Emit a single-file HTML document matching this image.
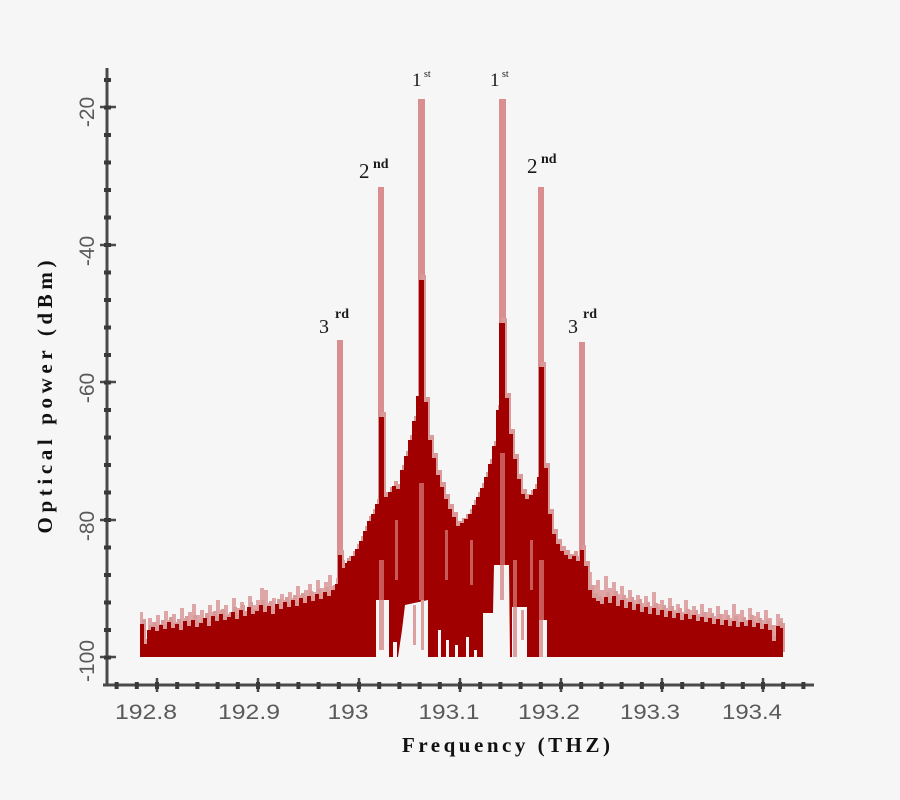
<!DOCTYPE html>
<html><head><meta charset="utf-8"><style>
html,body{margin:0;padding:0;background:#f6f6f6;}
svg{display:block;}
</style></head><body>
<svg width="900" height="800" viewBox="0 0 900 800" xmlns="http://www.w3.org/2000/svg">
<rect width="900" height="800" fill="#f6f6f6"/>
<defs>
<path id="env" d="M140,657 V624 H144 V644 H147 V630 H151 V627 H155 V631 H159 V625 H163 V629 H167 V622 H171 V628 H175 V624 H179 V630 H183 V621 H187 V626 H191 V620 H195 V627 H199 V623 H203 V618 H207 V626 H211 V616 H215 V621 H219 V614 H223 V620 H227 V617 H231 V612 H235 V619 H239 V610 H243 V616 H247 V607 H251 V614 H255 V611 H259 V605 H263 V612 H267 V606 H271 V614 H275 V604 H279 V609 H283 V602 H287 V607 H291 V600 H295 V606 H299 V598 H303 V603 H307 V596 H311 V601 H315 V594 H319 V599 H323 V592 H327 V596 H331 V590 H335 V584 H338 V555 H342 V568 H345 V563 H347 V561 H351 V556 H355 V549 H359 V541 H363 V531 H367 V521 H371 V514 H375 V504 H379 V417 H384 V497 H388 V492 H392 V486 H396 V489 H400 V470 H404 V456 H408 V440 H412 V421 H416 V396 H419 V280 H424 V402 H428 V440 H432 V458 H436 V475 H440 V487 H444 V499 H448 V509 H452 V517 H456 V526 H460 V523 H464 V519 H468 V514 H472 V505 H476 V497 H480 V488 H484 V477 H488 V464 H492 V446 H496 V410 H499 V323 H505 V398 H509 V434 H513 V459 H517 V479 H521 V494 H525 V499 H529 V495 H533 V489 H537 V477 H539 V367 H544 V468 H548 V514 H552 V534 H556 V544 H560 V551 H564 V555 H568 V559 H572 V556 H576 V561 H580 V550 H584 V566 H588 V590 H592 V598 H596 V601 H600 V604 H604 V597 H608 V603 H612 V596 H616 V606 H620 V600 H624 V608 H628 V602 H632 V610 H636 V604 H640 V612 H644 V607 H648 V614 H652 V608 H656 V615 H660 V610 H664 V617 H668 V611 H672 V618 H676 V613 H680 V620 H684 V614 H688 V619 H692 V615 H696 V621 H700 V617 H704 V622 H708 V618 H712 V624 H716 V619 H720 V625 H724 V620 H728 V626 H732 V621 H736 V627 H740 V622 H744 V626 H748 V620 H752 V627 H756 V623 H760 V629 H764 V624 H768 V630 H772 V641 H776 V626 H780 V628 H783 V657 Z"/>
</defs>

<path fill="#d98f8f" d="M337,340h6v317h-6z M378,187h6v470h-6z M418,99h7v558h-7z M499,99h7v558h-7z M538,187h6v470h-6z M579,342h6v315h-6z"/>

<path fill="#dea6a6" d="M140,657 V612 H143 V625 H146 V640 H148 V618 H152 V622 H156 V615 H160 V624 H164 V611 H168 V620 H172 V614 H176 V622 H180 V608 H184 V618 H188 V612 H192 V604 H196 V615 H200 V610 H204 V620 H208 V605 H212 V612 H216 V600 H220 V610 H224 V605 H228 V614 H232 V598 H236 V608 H240 V602 H244 V612 H248 V596 H252 V605 H256 V600 H260 V588 H264 V590 H268 V603 H272 V598 H276 V606 H280 V594 H284 V600 H288 V592 H292 V598 H296 V586 H300 V595 H304 V590 H308 V584 H312 V592 H316 V580 H320 V588 H324 V582 H328 V575 H332 V586 H336 V578 H340 V560 H345 V657 Z"/>
<path fill="#dea6a6" d="M584,657 V575 H588 V572 H592 V585 H596 V580 H600 V590 H604 V576 H608 V588 H612 V582 H616 V594 H620 V586 H624 V598 H628 V590 H632 V600 H636 V595 H640 V603 H644 V596 H648 V606 H652 V592 H656 V604 H660 V600 H664 V608 H668 V598 H672 V610 H676 V604 H680 V612 H684 V600 H688 V610 H692 V606 H696 V614 H700 V604 H704 V612 H708 V608 H712 V616 H716 V606 H720 V614 H724 V610 H728 V618 H732 V604 H736 V614 H740 V610 H744 V620 H748 V608 H752 V616 H756 V612 H760 V620 H764 V610 H768 V618 H772 V625 H776 V614 H780 V618 H783 V657 Z"/>
<use href="#env" transform="translate(2,-5)" fill="#d99a9a"/>
<use href="#env" fill="#a00000"/>

<path fill="#c85a5a" d="M419,483h5v117h-5z M500,453h5v147h-5z M379,560h5v40h-5z M539,560h5v60h-5z M513,560h4v47h-4z M395,520h3v60h-3z M445,530h3v50h-3z M470,540h3v45h-3z M530,540h3v50h-3z"/>

<path fill="#f6f6f6" d="M376,600h13v57h-13z M398,657 L402,630 L405,605 L428,600 L428,657 Z M438,630h3v27h-3z M446,640h3v17h-3z M455,645h3v12h-3z M466,637h3v20h-3z M474,650h3v7h-3z M483,657 L483,613 L493,613 L494,565 L509,565 L510,657 Z M512,607h15v50h-15z M540,620h7v37h-7z M393,642h4v15h-4z"/>
<path fill="#dca0a0" d="M379,600h5v50h-5z M413,605h3v40h-3z M421,600h3v50h-3z M500,565h4v35h-4z M513,607h4v50h-4z M521,610h3v30h-3z M539,620h4v37h-4z"/>

<g stroke="#4a4a4a" fill="none">
<line x1="107" y1="68" x2="107" y2="686" stroke-width="3"/>
<line x1="103" y1="685" x2="814" y2="685" stroke-width="3"/>
<path stroke-width="2.5" d="M100,107H116 M100,245H116 M100,382H116 M100,520H116 M100,657H116 M157,678V692 M258,678V692 M359,678V692 M460,678V692 M561,678V692 M662,678V692 M763,678V692"/>
<line x1="107.5" y1="78" x2="107.5" y2="660" stroke="#3a3a3a" stroke-width="7" stroke-dasharray="4 23.5"/>
<line x1="114.6" y1="685.5" x2="810" y2="685.5" stroke="#3a3a3a" stroke-width="7" stroke-dasharray="4 16.2"/>
</g>

<g font-family="Liberation Sans, sans-serif" font-size="21" fill="#5a5a5a" text-anchor="middle">
<text x="146" y="719" textLength="62" lengthAdjust="spacingAndGlyphs">192.8</text>
<text x="249" y="719" textLength="62" lengthAdjust="spacingAndGlyphs">192.9</text>
<text x="348" y="719" textLength="41" lengthAdjust="spacingAndGlyphs">193</text>
<text x="449" y="719" textLength="61" lengthAdjust="spacingAndGlyphs">193.1</text>
<text x="549" y="719" textLength="62" lengthAdjust="spacingAndGlyphs">193.2</text>
<text x="650" y="719" textLength="60" lengthAdjust="spacingAndGlyphs">193.3</text>
<text x="752" y="719" textLength="60" lengthAdjust="spacingAndGlyphs">193.4</text>
<text transform="translate(94,112) rotate(-90)">-20</text>
<text transform="translate(94,251) rotate(-90)">-40</text>
<text transform="translate(94,388) rotate(-90)">-60</text>
<text transform="translate(94,526) rotate(-90)">-80</text>
<text transform="translate(94,661) rotate(-90)">-100</text>
</g>

<text x="506" y="752" text-anchor="middle" font-family="Liberation Serif, serif" font-weight="bold" font-size="21" fill="#111" textLength="208" lengthAdjust="spacing">Frequency (THZ)</text>
<text transform="translate(52,397) rotate(-90)" text-anchor="middle" font-family="Liberation Serif, serif" font-weight="bold" font-size="21" fill="#111" textLength="273" lengthAdjust="spacing">Optical power (dBm)</text>

<g font-family="Liberation Serif, serif" fill="#1a1a1a">
<text x="412" y="86" font-size="19">1</text><text x="424" y="77" font-size="10">st</text>
<text x="490" y="86" font-size="19">1</text><text x="502" y="77" font-size="10">st</text>
<text x="359" y="178" font-size="21">2</text><text x="373" y="168" font-size="14" font-weight="bold">nd</text>
<text x="527" y="173" font-size="21">2</text><text x="541" y="163" font-size="14" font-weight="bold">nd</text>
<text x="319" y="333" font-size="20">3</text><text x="335" y="318" font-size="14" font-weight="bold">rd</text>
<text x="568" y="333" font-size="20">3</text><text x="583" y="318" font-size="14" font-weight="bold">rd</text>
</g>
</svg>
</body></html>
